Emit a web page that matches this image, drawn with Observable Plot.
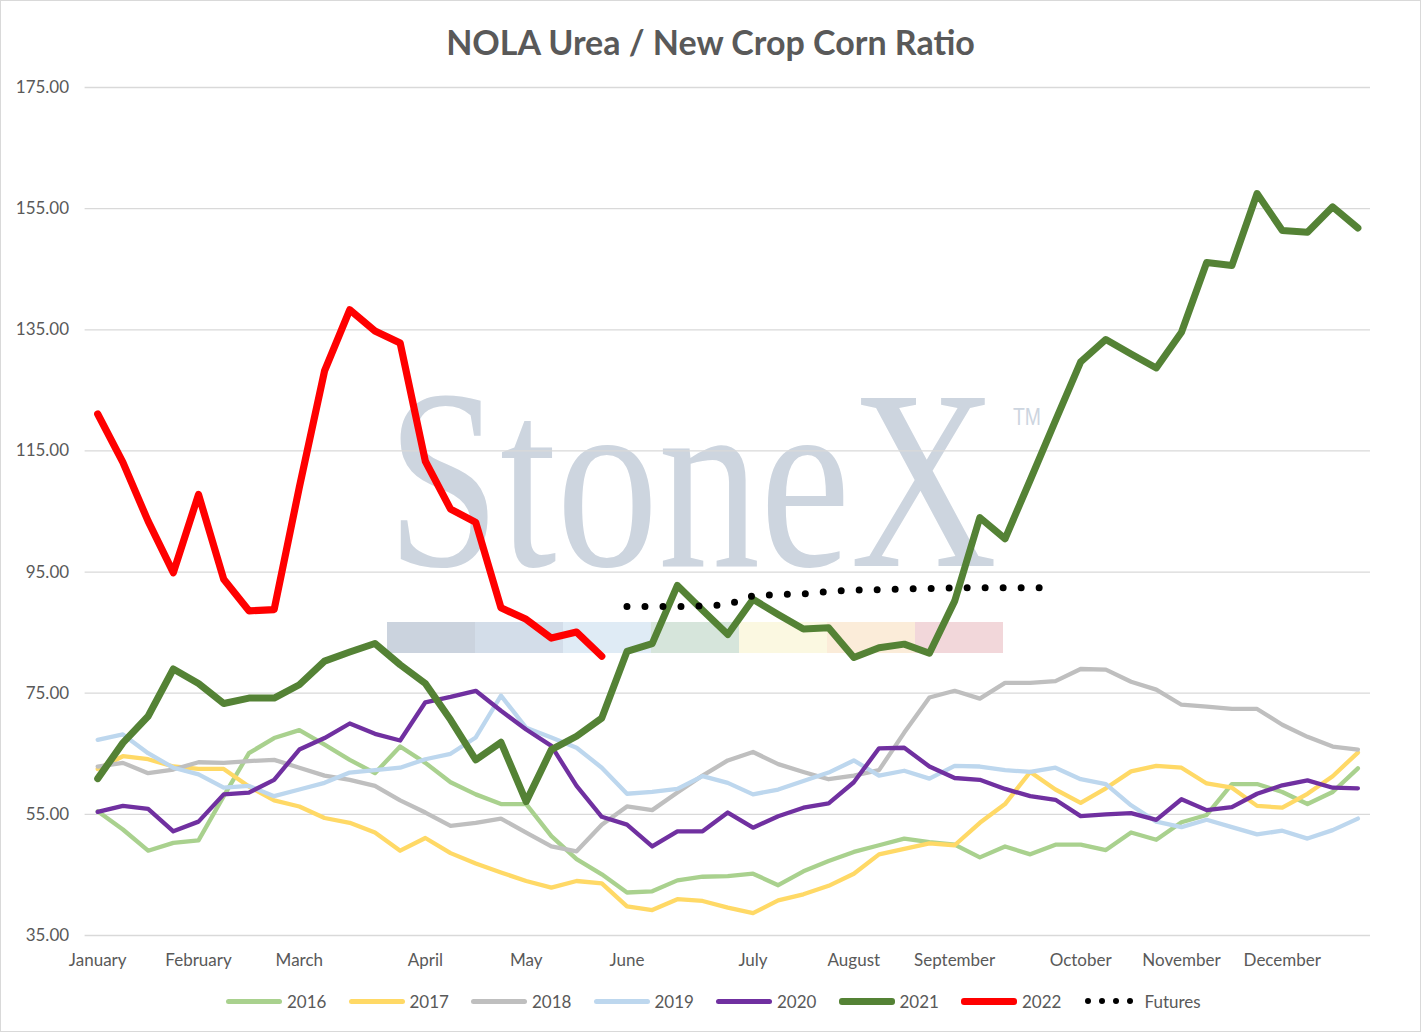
<!DOCTYPE html>
<html>
<head>
<meta charset="utf-8">
<script src="https://cdn.jsdelivr.net/npm/d3@7"></script>
<script src="https://cdn.jsdelivr.net/npm/@observablehq/plot@0.6"></script>
<style>
  html, body { margin: 0; padding: 0; background: #fff; }
  #chart { position: relative; width: 1419px; height: 1030px; border: 1px solid #D9D9D9;
           font-family: Lato, "Liberation Sans", sans-serif; color: #595959; overflow: hidden; background: #fff; }
  #wm { position: absolute; left: 0; top: 0; z-index: 0; }
  #title { position: relative; z-index: 1; padding-top: 12px; height: 57px; line-height: 57px;
           text-align: center; font-weight: bold; font-size: 34px; color: #595959; }
  #plot { position: relative; z-index: 1; }
  #legend { position: relative; z-index: 1; display: flex; align-items: center; padding-top: 16px;
            height: 20px; padding-left: 225px; font-size: 17px; color: #595959; }
  .item { display: flex; align-items: center; width: 122.5px; }
  .sw { width: 56px; border-radius: 3px; margin-right: 5px; }
  .dots { display: flex; width: 48px; justify-content: space-between; margin-right: 12px; margin-left: 1px; }
  .dots span { width: 6px; height: 6px; border-radius: 50%; background: #000; }
</style>
</head>
<body>
<div id="chart">
  <svg id="wm" width="1419" height="1030"></svg>
  <div id="title">NOLA Urea / New Crop Corn Ratio</div>
  <div id="plot"></div>
  <div id="legend"></div>
</div>
<script>
// ---- data ----
const months = ["January","February","March","April","May","June","July","August","September","October","November","December"];
const monthWeeks = [0, 4, 8, 13, 17, 21, 26, 30, 34, 39, 43, 47];
const yTicks = [35, 55, 75, 95, 115, 135, 155, 175];

const y2016 = [55.5,52.5,49.0,50.3,50.7,58.0,65.1,67.6,68.9,66.5,64.0,61.8,66.2,63.5,60.3,58.3,56.7,56.7,51.4,47.6,45.1,42.1,42.3,44.1,44.7,44.8,45.2,43.3,45.6,47.3,48.8,49.9,51.0,50.4,50.0,47.9,49.7,48.4,50.0,50.0,49.1,52.0,50.8,53.7,54.9,60.0,60.0,58.7,56.7,58.7,62.6];
const y2017 = [62.5,64.6,64.1,62.9,62.5,62.5,59.6,57.3,56.3,54.4,53.6,52.0,49.0,51.1,48.6,46.9,45.4,44.0,42.9,44.0,43.6,39.8,39.2,41.0,40.7,39.6,38.7,40.8,41.8,43.2,45.2,48.4,49.3,50.2,49.9,53.6,56.7,62.0,59.1,56.9,59.3,62.1,63.0,62.7,60.1,59.4,56.4,56.1,58.4,61.3,65.2];
const y2018 = [62.9,63.5,61.8,62.4,63.6,63.5,63.8,64.0,62.7,61.4,60.7,59.7,57.3,55.3,53.1,53.6,54.3,52.0,49.7,48.9,53.3,56.3,55.7,58.6,61.4,63.9,65.3,63.3,62.0,60.8,61.4,62.3,68.5,74.3,75.4,74.1,76.7,76.7,77.0,79.0,78.9,76.9,75.6,73.1,72.8,72.4,72.4,69.8,67.8,66.2,65.7];
const y2019 = [67.3,68.2,65.1,62.7,61.6,59.4,59.7,58.0,59.1,60.2,61.9,62.3,62.7,64.1,65.0,67.7,74.6,69.3,67.7,66.0,62.7,58.4,58.7,59.2,61.3,60.2,58.3,59.1,60.5,61.9,63.9,61.4,62.2,60.9,63.0,62.9,62.3,62.0,62.7,60.8,60.0,56.5,53.8,52.9,54.1,52.9,51.7,52.3,51.0,52.4,54.3];
const y2020 = [55.4,56.4,55.9,52.2,53.8,58.3,58.6,60.7,65.7,67.6,70.0,68.3,67.2,73.5,74.4,75.4,72.1,69.0,66.3,59.7,54.6,53.3,49.7,52.2,52.2,55.3,52.8,54.7,56.1,56.8,60.3,65.9,66.0,62.9,61.0,60.7,59.2,58.0,57.4,54.7,55.0,55.2,54.1,57.5,55.7,56.2,58.4,59.8,60.6,59.4,59.3];
const y2021 = [60.9,66.8,71.2,79.0,76.6,73.3,74.2,74.2,76.4,80.3,81.8,83.2,79.7,76.6,70.6,64.0,66.9,57.1,65.7,67.9,70.9,81.9,83.2,92.8,88.7,84.7,90.5,88.0,85.6,85.8,80.9,82.5,83.1,81.6,90.2,104.0,100.5,110.2,120.0,129.7,133.4,131.0,128.7,134.6,146.1,145.6,157.5,151.4,151.1,155.3,151.8];
const y2022 = [121.1,113.1,103.4,94.9,107.8,93.8,88.6,88.8,109.0,128.2,138.3,134.8,132.8,113.3,105.4,103.2,89.1,87.2,84.1,85.1,81.1];
const futuresStart = 21;
const futures = [89.3,89.3,89.3,89.4,89.6,91.1,91.3,91.4,91.8,92.0,92.1,92.2,92.3,92.4,92.4,92.4,92.4,92.4];

const seriesNames = ["2016","2017","2018","2019","2020","2021","2022"];
const seriesValues = [y2016, y2017, y2018, y2019, y2020, y2021, y2022];
const seriesColors = ["#A9D18E","#FFD966","#BFBFBF","#BDD7EE","#7030A0","#548235","#FF0000"];
const seriesWidths = [4.3, 4.3, 4.3, 4.3, 4.3, 7, 7.2];

// ---- watermark (decoration) ----
(function () {
  const ns = "http://www.w3.org/2000/svg";
  const wm = document.getElementById("wm");
  const bandColors = ["#CBD3DE","#D3DDE9","#DFEBF5","#D6E5DB","#FBF8E1","#FBECD9","#F2D7DA"];
  bandColors.forEach((c, i) => {
    const r = document.createElementNS(ns, "rect");
    r.setAttribute("x", 386 + i * 88); r.setAttribute("y", 621);
    r.setAttribute("width", 88); r.setAttribute("height", 31);
    r.setAttribute("fill", c);
    wm.appendChild(r);
  });
  const t = document.createElementNS(ns, "text");
  t.setAttribute("fill", "#CDD5DF");
  t.setAttribute("font-family", "Liberation Serif, DejaVu Serif, serif");
  t.setAttribute("font-size", 256);
  t.textContent = "StoneX";
  wm.appendChild(t);
  const natural = t.getComputedTextLength() || 768;
  t.setAttribute("transform", `translate(386,565) scale(${610 / natural},1)`);
  const tm = document.createElementNS(ns, "text");
  tm.setAttribute("fill", "#CDD5DF");
  tm.setAttribute("font-family", "Liberation Sans, sans-serif");
  tm.setAttribute("font-size", 24);
  tm.textContent = "TM";
  wm.appendChild(tm);
  const tml = tm.getComputedTextLength() || 33;
  tm.setAttribute("transform", `translate(1012,424) scale(${28 / tml},1)`);
})();

// ---- plot ----
const lineMarks = seriesValues.map((vals, k) =>
  Plot.line(vals, {
    x: (d, i) => i, y: d => d,
    stroke: seriesColors[k], strokeWidth: seriesWidths[k],
    strokeLinejoin: "round", strokeLinecap: "round"
  })
);

const plot = Plot.plot({
  width: 1419,
  height: 905,
  marginLeft: 83.6,
  marginRight: 50,
  marginTop: 17,
  marginBottom: 40,
  style: { background: "transparent", fontFamily: "Lato, 'Liberation Sans', sans-serif", fontSize: "17px", color: "#595959" },
  x: { type: "linear", domain: [-0.5, 50.5], axis: null },
  y: { domain: [35, 175], axis: null },
  marks: [
    Plot.gridY(yTicks, { stroke: "#D9D9D9", strokeOpacity: 1, strokeWidth: 1.3 }),
    Plot.axisY(yTicks, { tickSize: 0, tickPadding: 16, tickFormat: d => d.toFixed(2), label: null, fontSize: 17 }),
    Plot.axisX(monthWeeks, { tickSize: 0, tickPadding: 18, tickFormat: d => months[monthWeeks.indexOf(d)], label: null, fontSize: 17 }),
    ...lineMarks,
    Plot.line(futures, {
      x: (d, i) => i + futuresStart, y: d => d,
      stroke: "#000", strokeWidth: 7, strokeDasharray: "0 18", strokeLinecap: "round"
    })
  ]
});
document.getElementById("plot").appendChild(plot);

// ---- legend ----
const legend = document.getElementById("legend");
seriesNames.forEach((n, k) => {
  const it = document.createElement("div"); it.className = "item";
  const sw = document.createElement("div"); sw.className = "sw";
  sw.style.background = seriesColors[k];
  sw.style.height = (k >= 5 ? 7 : 5) + "px";
  it.appendChild(sw);
  const tx = document.createElement("span"); tx.textContent = n; it.appendChild(tx);
  legend.appendChild(it);
});
const fi = document.createElement("div"); fi.className = "item";
const dots = document.createElement("div"); dots.className = "dots";
for (let i = 0; i < 4; i++) dots.appendChild(document.createElement("span"));
fi.appendChild(dots);
const ft = document.createElement("span"); ft.textContent = "Futures"; fi.appendChild(ft);
legend.appendChild(fi);
</script>
</body>
</html>
